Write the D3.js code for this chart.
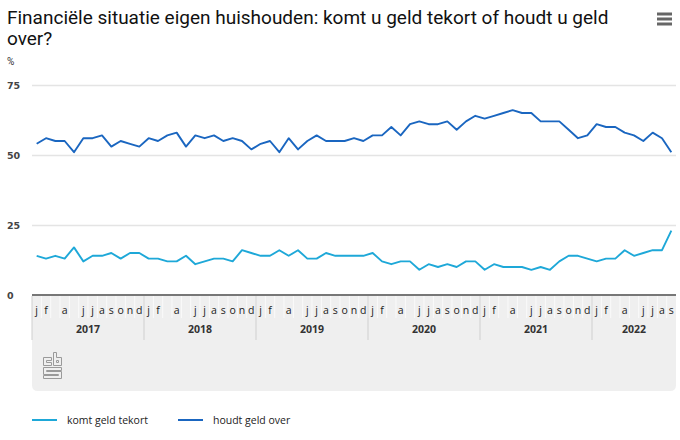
<!DOCTYPE html>
<html><head><meta charset="utf-8">
<script src="https://cdn.jsdelivr.net/npm/d3@7"></script>
<style>
body{margin:0;background:#fff;}
svg{display:block;font-family:"Liberation Sans Narrow","Roboto","DejaVu Sans",sans-serif;}
</style></head>
<body><svg id="c" width="680" height="440"></svg>
<script>
const years = ["2017","2018","2019","2020","2021","2022"];
const monthLabels = ["j","f","","a","","j","j","a","s","o","n","d"];
const yTicks = [0,25,50,75];
const seriesNames = ["komt geld tekort","houdt geld over"];
const tekort = [14,13,14,13,17,12,14,14,15,13,15,15,
                13,13,12,12,14,11,12,13,13,12,16,15,
                14,14,16,14,16,13,13,15,14,14,14,14,
                15,12,11,12,12,9,11,10,11,10,12,12,
                9,11,10,10,10,9,10,9,12,14,14,13,
                12,13,13,16,14,15,16,16,23];
const over = [54,56,55,55,51,56,56,57,53,55,54,53,
              56,55,57,58,53,57,56,57,55,56,55,52,
              54,55,51,56,52,55,57,55,55,55,56,55,
              57,57,60,57,61,62,61,61,62,59,62,64,
              63,64,65,66,65,65,62,62,62,59,56,57,
              61,60,60,58,57,55,58,56,51];

const colors = ["#1ea8d8","#1a66c0"];
const svg = d3.select("#c");
const n = tekort.length;
const idx = d3.range(n);
const x = d3.scaleBand().domain(idx).range([32,676]).paddingInner(0).paddingOuter(0);
const y = d3.scaleLinear().domain([0,75]).range([295,85]);
const cx = i => x(i) + x.bandwidth()/2;

// title
const title = svg.append("text").attr("x",7).attr("fill","#111").attr("font-size",19);
title.append("tspan").attr("x",7).attr("y",24).text("Financiële situatie eigen huishouden: komt u geld tekort of houdt u geld");
title.append("tspan").attr("x",7).attr("y",45).text("over?");
svg.append("text").attr("x",7).attr("y",65).attr("font-size",10).attr("fill","#333").text("%");

// menu icon
[14,19,24].forEach(yy=>svg.append("rect").attr("x",657).attr("y",yy-1.5).attr("width",15).attr("height",3).attr("fill","#666"));

// gridlines & y labels
const yAxis = d3.axisLeft(y).tickValues(yTicks).tickSize(-(676-32)).tickPadding(14);
const gy = svg.append("g").attr("transform","translate(32,0)").call(yAxis);
gy.select(".domain").remove();
gy.selectAll(".tick line").attr("stroke","#e4e4e4").attr("stroke-width",1.5).attr("x1",0).attr("x2",676-32);
gy.selectAll(".tick text").attr("x",-14).attr("text-anchor","start").attr("dx",-11).attr("font-weight","bold").attr("fill","#444")
  .attr("font-family","'DejaVu Sans',sans-serif").attr("font-size",9.5);
gy.selectAll(".tick").filter(d=>d===0).select("line").remove();

// bottom panel
const px0=32, px1=676, py0=296, py1=391, r=6;
svg.append("path").attr("fill","#efefef")
  .attr("d",`M${px0},${py0}H${px1}V${py1-r}Q${px1},${py1} ${px1-r},${py1}H${px0+r}Q${px0},${py1} ${px0},${py1-r}Z`);

// month ticks
const xAxis = d3.axisBottom(x).tickSize(0).tickFormat(i=>monthLabels[i%12]);
const gx = svg.append("g").attr("transform","translate(0,296)").call(xAxis);
gx.select(".domain").remove();
gx.selectAll(".tick text").attr("y",11).attr("dy","0.71em").attr("fill","#222")
  .attr("font-family","'Open Sans',sans-serif").attr("font-size",10.5);
// month separators
svg.append("g").selectAll("line").data(d3.range(1,n)).join("line")
  .attr("x1",i=>x(i)).attr("x2",i=>x(i)).attr("y1",296).attr("y2",318)
  .attr("stroke","#fafafa").attr("stroke-width",1);
// year separators
const yearStarts = years.map((_,k)=>k*12);
svg.append("g").selectAll("line").data(yearStarts).join("line")
  .attr("x1",i=>x(i)).attr("x2",i=>x(i)).attr("y1",296).attr("y2",340)
  .attr("stroke","#cfcfcf").attr("stroke-width",1);
// year labels
svg.append("g").selectAll("text").data(years).join("text")
  .attr("x",(d,k)=>{const a=k*12, b=Math.min(k*12+11,n-1); return (x(a)+x(b)+x.bandwidth())/2;})
  .attr("y",333).attr("text-anchor","middle").attr("font-size",10.5).attr("font-weight","bold")
  .attr("font-family","'Open Sans',sans-serif").attr("fill","#333").text(d=>d);

// axis line
svg.append("line").attr("x1",32).attr("x2",676).attr("y1",y(0)).attr("y2",y(0)).attr("stroke","#777").attr("stroke-width",2);

// lines
const line = d3.line().x((d,i)=>cx(i)).y(d=>y(d));
[tekort,over].forEach((s,k)=>{
  svg.append("path").datum(s).attr("d",line).attr("fill","none").attr("stroke",colors[k]).attr("stroke-width",1.9).attr("stroke-linejoin","round");
});

// CBS logo
const logo = svg.append("g").attr("transform","translate(43,352)").attr("fill","none").attr("stroke","#9a9a9a").attr("stroke-width",1);
logo.append("path").attr("d","M0.5,5.5H8.5V8.5H3.5V10.5H8.5V13.5H0.5Z");
logo.append("path").attr("d","M10.5,0.5H13.5V5.5H18.5V13.5H10.5Z M13.5,8.5H15.5V10.5H13.5Z");
logo.append("path").attr("d","M0.5,15.5H18.5V18.5H3.5V19.5H18.5V26.5H0.5V23.5H15.5V22.5H0.5Z");

// legend
const leg = svg.append("g");
const legX = [32,178];
seriesNames.forEach((nm,k)=>{
  leg.append("line").attr("x1",legX[k]).attr("x2",legX[k]+25).attr("y1",420).attr("y2",420).attr("stroke",colors[k]).attr("stroke-width",2);
  leg.append("text").attr("x",legX[k]+35).attr("y",424).attr("fill","#222")
    .attr("font-family","'Open Sans',sans-serif").attr("font-size",10.5).text(nm);
});
</script></body></html>
